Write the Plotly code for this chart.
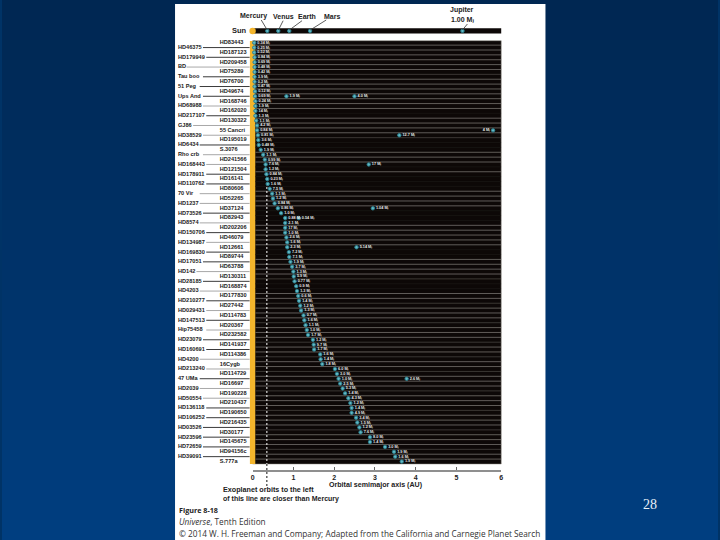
import plotly.graph_objects as go

# ---- data ----
right_labels = ["HD83443","HD187123","HD209458","HD75289","HD76700","HD49674","HD168746","HD162020","HD130322","55 Cancri","HD195019","S.3076","HD241566","HD121504","HD16141","HD80606","HD52265","HD37124","HD82943","HD202206","HD46079","HD12661","HD89744","HD63788","HD130311","HD168874","HD177830","HD27442","HD114783","HD20367","HD232582","HD141937","HD114386","16Cygb","HD114729","HD16697","HD190228","HD210437","HD190650","HD216435","HD30177","HD145675","HD94156c","S.777a"]
left_labels = ["HD46375","HD179949","BD","Tau boo","51 Peg","Ups And","HD68988","HD217107","GJ86","HD38529","HD6434","Rho crb","HD168443","HD178911","HD110762","70 Vir","HD1237","HD73526","HD8574","HD150706","HD134987","HD169830","HD17051","HD142","HD28185","HD4203","HD210277","HD029431","HD147513","Hip75458","HD23079","HD160691","HD4200","HD213240","47 UMa","HD2039","HD50554","HD136118","HD106252","HD03526","HD23596","HD72659","HD39091"]
dark_leader_left = ["HD46375","HD179949","Tau boo","51 Peg","Ups And","HD217107","HD6434","HD178911","HD110762","HD73526","HD150706","HD169830","HD17051","HD28185","HD210277","HD147513","HD23079","HD160691","47 UMa","HD136118","HD106252","HD03526","HD23596","HD72659","HD39091"]

semimajor_au = [0.04,0.04,0.04,0.05,0.05,0.05,0.05,0.05,0.05,0.05,0.06,0.06,0.07,0.07,0.07,0.07,0.09,0.11,0.11,0.13,0.14,0.15,0.2,0.26,0.3,0.32,0.32,0.34,0.36,0.37,0.42,0.48,0.5,0.54,0.62,0.7,0.8,0.8,0.8,0.8,0.83,0.85,0.85,0.89,0.9,0.93,0.97,1.0,1.01,1.03,1.07,1.09,1.12,1.14,1.17,1.19,1.25,1.27,1.3,1.33,1.36,1.48,1.5,1.51,1.66,1.67,1.71,2.02,2.07,2.11,2.15,2.21,2.27,2.35,2.4,2.43,2.43,2.54,2.57,2.62,2.65,2.88,2.88,3.25,3.47,3.5,3.66]
mass_text = ["0.34","0.25","0.52","0.84","0.69","0.48","0.42","3.9","0.2","0.47","0.12","0.69","0.24","1.9","14","1.3","1.1","4.2","0.84","0.81","3.6","0.48","1.9","1.1","0.99","7.6","1.2","0.84","0.23","1.6","7.5","1.1","1.2","0.84","0.86","1.0","0.88","2.1","17","1.0","2.6","1.6","2.3","7.2","7.1","1.9","3.7","1.3","5.9","0.77","0.9","1.3","0.6","1.4","1.2","1.3","0.7","1.6","1.1","1.0","1.7","1.2","9.7","1.7","1.6","1.4","1.8","6.0","3.0","1.0","2.5","5.3","1.4","4.3","1.2","1.4","4.9","3.4","1.5","1.2","7.6","8.0","1.4","3.0","1.9","1.6","1.9"]

extra_rows = [11,11,18,19,25,34,36,42,69]
extra_au = [0.83,2.5,5.9,3.6,2.85,2.95,1.13,2.55,3.78]
extra_mass = ["1.9","4.0","4","12.7","17","1.04","0.54","5.14","2.6"]
extra_pos = ["middle right","middle right","middle left","middle right","middle right","middle right","middle right","middle right","middle right"]

solar_names = ["Mercury","Venus","Earth","Mars","Jupiter"]
solar_au = [0.36,0.63,0.9,1.41,5.15]
name_centre_px = [253,283,307,332,463]
name_top_px = [16,16,16,16,10]
leader_from = [(266.7,30),(278,30),(289,30),(310,30),(463,30)]
leader_to = [(260.7,20),(282.7,20.7),(301.7,20.7),(326,20),(468,24)]

tick_values = [0,1,2,3,4,5,6.1]
tick_labels = ["0","1","2","3","4","5","6"]
missing_lines = [14,20,21,25,27,28,29,34,35,36,42,43,49,50]
dim_lines = [6,19,48,53,57,61,64,67,71,75,79,83]

# ---- page geometry ----
W, H = 720, 540
X0, PX_PER_AU = 252, 41
ROW0, ROW_H = 42.7, 4.87
def fx(px): return px / W
def fy(px): return 1 - px / H
def au(px): return (px - X0) / PX_PER_AU
def row_of(py): return (py - ROW0) / ROW_H

n_rows = len(semimajor_au)
rows = list(range(n_rows))
TXT = "Liberation Sans"

fig = go.Figure()

# row lines
def hlines(idx, color, width):
    xs, ys = [], []
    for k in idx:
        xs += [0.07, 6.1, None]
        ys += [k + 0.5, k + 0.5, None]
    fig.add_trace(go.Scatter(x=xs, y=ys, mode="lines", line=dict(color=color, width=width), hoverinfo="skip"))
bright = [k for k in range(n_rows - 1) if k not in missing_lines and k not in dim_lines]
hlines(bright, "#75716d", 0.8)
hlines(dim_lines, "#46423f", 0.8)
hlines(missing_lines, "#191614", 0.8)

# Mercury reference line
fig.add_trace(go.Scatter(x=[0.35,0.35], y=[row_of(187), row_of(464)], mode="lines",
                         line=dict(color="#ffffff", width=1, dash="2px,2px"), hoverinfo="skip"))

# planets
all_x = semimajor_au + extra_au
all_y = rows + extra_rows
all_t = [f"{m} M\u2C7C" for m in mass_text + extra_mass]
all_p = ["middle right"] * n_rows + extra_pos
fig.add_trace(go.Scatter(x=all_x, y=all_y, mode="markers+text", text=all_t, textposition=all_p,
                         cliponaxis=False,
                         textfont=dict(family=TXT + ", DejaVu Sans", size=3.8, color="#e8e8e8", weight="bold"),
                         marker=dict(size=3.4, color="#62b8c4", line=dict(color="#2a7f8e", width=1)),
                         hoverinfo="skip"))

# star labels and leaders, on a wider hidden x axis that reaches the label columns
r_rows = [2 * i for i in range(len(right_labels))]
l_rows = [2 * i + 1 for i in range(len(left_labels))]
for group, color in ((True, "#3a3a3a"), (False, "#a8a8a8")):
    xs, ys = [], []
    for name, r in zip(left_labels, l_rows):
        if (name in dark_leader_left) == group:
            xs += [au(177 + 3.3 * len(name) + 2), au(249), None]
            ys += [r, r, None]
    fig.add_trace(go.Scatter(x=xs, y=ys, xaxis="x2", mode="lines",
                             line=dict(color=color, width=1), hoverinfo="skip"))
for labels, rr, px in ((right_labels, r_rows, 219), (left_labels, l_rows, 177)):
    fig.add_trace(go.Scatter(x=[au(px)] * len(labels), y=rr, xaxis="x2", text=labels, mode="text",
                             textposition="middle right", cliponaxis=False,
                             textfont=dict(family=TXT, size=5.6, color="#222222", weight="bold"),
                             hoverinfo="skip"))

# solar system strip
fig.add_trace(go.Scatter(x=[0], y=[0.5], xaxis="x2", yaxis="y2", mode="markers", cliponaxis=False,
                         marker=dict(size=6.5, color="#f3b52c"), hoverinfo="skip"))
fig.add_trace(go.Scatter(x=solar_au, y=[0.5] * len(solar_au), yaxis="y2", mode="markers",
                         marker=dict(size=3.4, color="#62b8c4", line=dict(color="#2a7f8e", width=1)),
                         hoverinfo="skip"))

# background shapes
shapes = []
top, bot = (0x00, 0x27, 0x52), (0x00, 0x3e, 0x80)
for i in range(54):
    t = i / 53
    c = tuple(round(a + (b - a) * t) for a, b in zip(top, bot))
    shapes.append(dict(type="rect", xref="paper", yref="paper", x0=0, x1=1, y0=fy(i * 10), y1=fy((i + 1) * 10),
                       fillcolor=f"rgb{c}", line_width=0, layer="below"))
shapes.append(dict(type="rect", xref="paper", yref="paper", x0=fx(174), x1=fx(546.5), y0=fy(4), y1=0,
                   fillcolor="#ffffff", line_width=0, layer="below"))
shapes.append(dict(type="rect", xref="paper", yref="paper", x0=fx(252), x1=fx(502), y0=fy(40.7), y1=fy(464),
                   fillcolor="#0d0807", line=dict(color="#8d8883", width=0.5), layer="below"))
shapes.append(dict(type="rect", xref="paper", yref="paper", x0=fx(252), x1=fx(502), y0=fy(28.3), y1=fy(33.5),
                   fillcolor="#0d0807", line_width=0, layer="below"))
shapes.append(dict(type="rect", xref="paper", yref="paper", x0=fx(249.3), x1=fx(254.7), y0=fy(41), y1=fy(464),
                   fillcolor="#f3b52c", line_width=0, layer="below"))
shapes.append(dict(type="line", xref="x", yref="paper", x0=0.35, x1=0.35, y0=fy(464), y1=fy(487),
                   line=dict(color="#111111", width=1, dash="2px,2px")))
for a, b in zip(leader_from, leader_to):
    shapes.append(dict(type="line", xref="paper", yref="paper", x0=fx(a[0]), y0=fy(a[1]), x1=fx(b[0]), y1=fy(b[1]),
                       line=dict(color="#333333", width=0.8)))

# text
def note(x, y, text, size, anchor="left", color="#222222", family=TXT, weight="bold"):
    return dict(x=fx(x), y=fy(y), xref="paper", yref="paper", text=text, showarrow=False, xanchor=anchor,
                yanchor="middle", font=dict(family=family, size=size, color=color, weight=weight), borderpad=0, borderwidth=0)
ann = [note(c, t, n, 7, "center") for n, c, t in zip(solar_names, name_centre_px, name_top_px)]
ann += [
    note(463, 19, "1.00 M\u2C7C", 7, "center", family=TXT + ", DejaVu Sans"),
    note(231, 30, "Sun", 7.5),
    note(222, 489, "Exoplanet orbits to the left", 7.2),
    note(222, 498.5, "of this line are closer than Mercury", 7),
    note(329, 484.5, "Orbital semimajor axis (AU)", 7.1),
    note(178, 510, "Figure 8-18", 7.2, family="Open Sans"),
    note(178, 521.5, "<i>Universe</i>, Tenth Edition", 8.25, color="#333333", family="Open Sans", weight="normal"),
    note(178, 533, "© 2014 W. H. Freeman and Company; Adapted from the California and Carnegie Planet Search", 8.25, color="#333333", family="Open Sans", weight="normal"),
    note(652, 504, "28", 14, "center", color="#e8f0f8", family="Liberation Sans Narrow", weight="normal"),
]

fig.update_layout(
    width=W, height=H, margin=dict(l=0, r=0, t=0, b=0), autosize=False, showlegend=False,
    paper_bgcolor="#003366", plot_bgcolor="rgba(0,0,0,0)", shapes=shapes, annotations=ann,
    xaxis=dict(domain=[fx(252), fx(502)], range=[0, 6.1], tickvals=tick_values, ticktext=tick_labels,
               anchor="free", position=fy(471), showgrid=False, zeroline=False, showline=True,
               linecolor="#8f8f8f", linewidth=1.5, ticks="inside", ticklen=3, tickcolor="#666666", tickwidth=1,
               tickfont=dict(family=TXT, size=7, color="#222222", weight="bold")),
    xaxis2=dict(domain=[fx(174), fx(502)], range=[au(174), au(502)], visible=False, anchor="y"),
    yaxis=dict(domain=[fy(464), fy(40.7)], range=[row_of(464), row_of(40.7)], visible=False),
    yaxis2=dict(domain=[fy(33.5), fy(28.3)], range=[0, 1], visible=False, anchor="x"),
)
fig.write_html("out.html", config=dict(displayModeBar=False),
               post_script="document.body.style.margin='0';document.documentElement.style.overflow='hidden';")
